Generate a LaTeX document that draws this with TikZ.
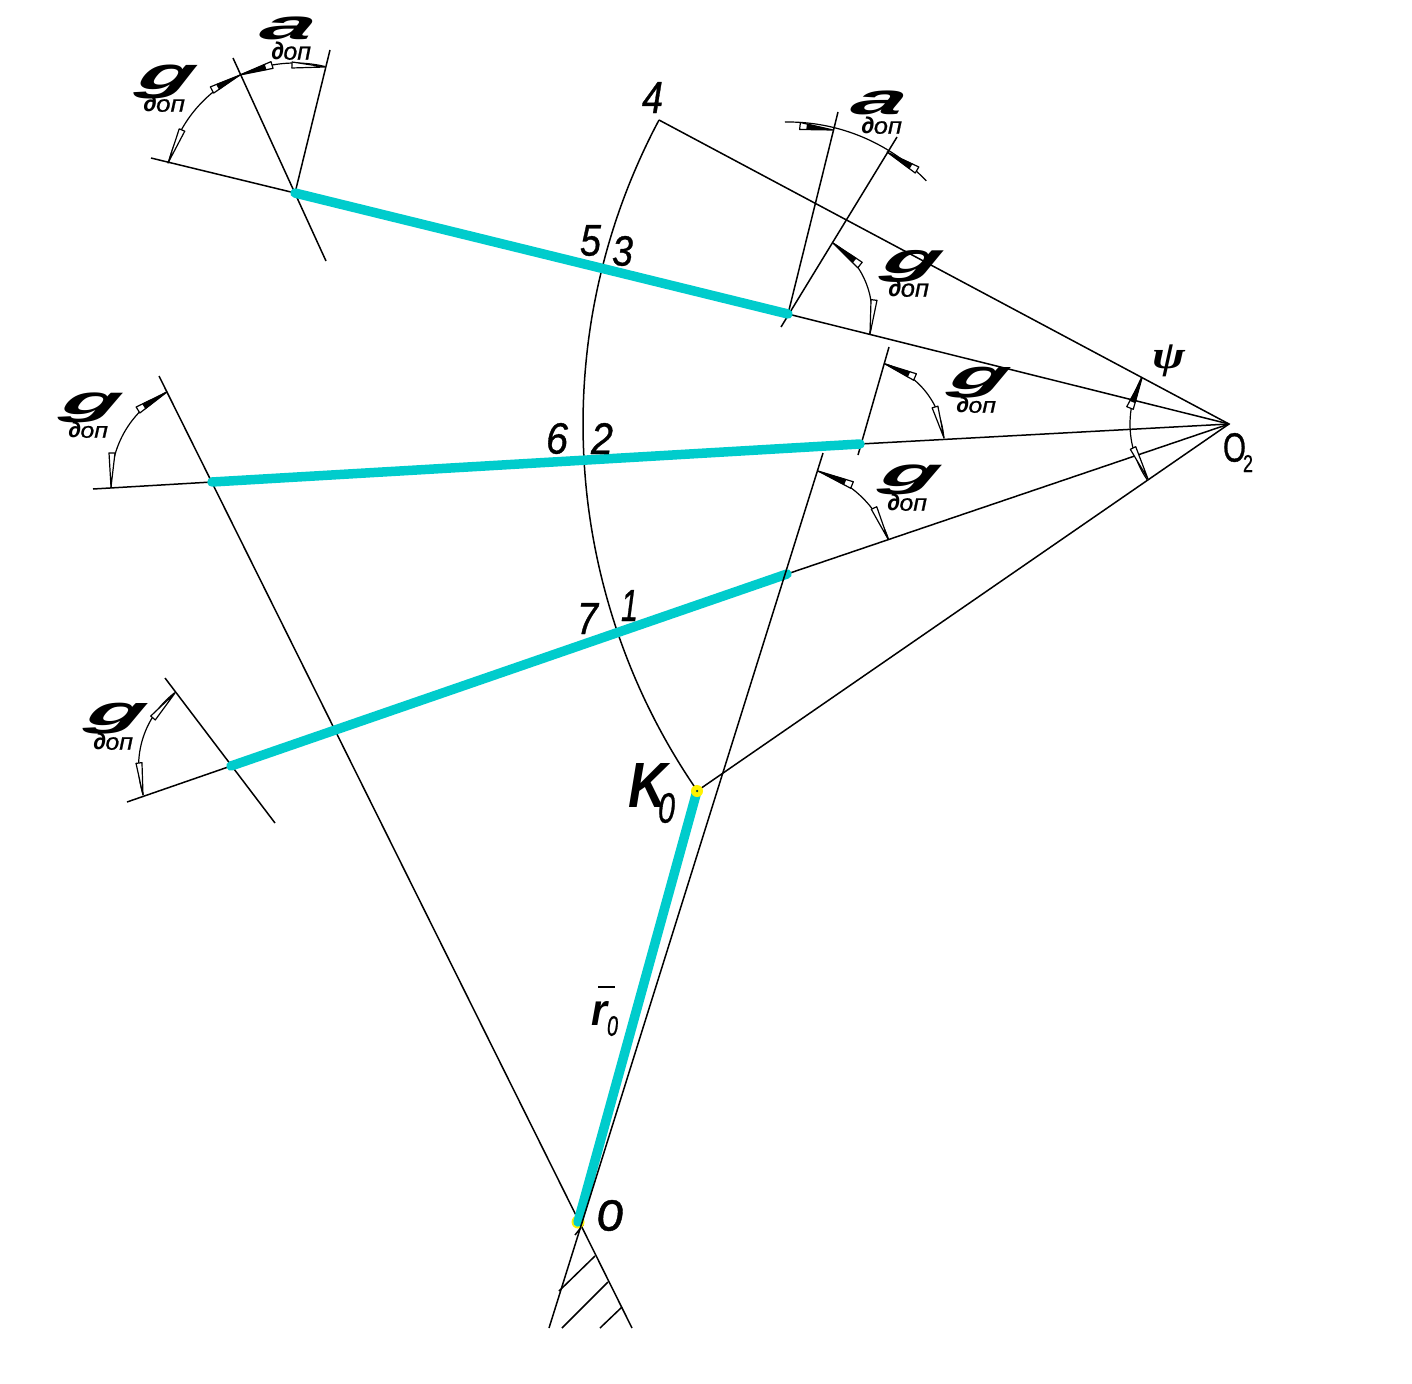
\documentclass[tikz,border=0pt]{standalone}
\usepackage{graphicx}
\usepackage{fontspec}
\setmainfont{Liberation Sans}
\newfontfamily\dopfont{PT Sans}
\newfontfamily\medfam[FakeBold=0.8]{Liberation Sans}
\usetikzlibrary{calc}
\definecolor{linkcyan}{RGB}{0,204,204}
\tikzset{
  thin line/.style={draw=black,line width=1.5pt},
  link/.style={draw=linkcyan,line width=9.5pt,line cap=round},
  glyph/.style={inner sep=0pt,outer sep=0pt},
  headopen/.style={draw=black,line width=1.2pt,fill=white,line join=round},
  headdark/.style={draw=none,fill=black},
  joint/.style={circle,fill=yellow,inner sep=0pt,minimum size=12pt},
  jointcore/.style={circle,fill=black!70!linkcyan,inner sep=0pt,minimum size=2.5pt}
}
% boxed text: name, x1, y1, x2, y2, text
\newcommand\boxlbl[6]{%
  \pgfmathsetmacro\bw{#4-#2}\pgfmathsetmacro\bh{#5-#3}%
  \pgfmathsetmacro\bx{(#2+#4)/2}\pgfmathsetmacro\by{(#3+#5)/2}%
  \node[glyph] (#1) at (\bx,\by) {\resizebox*{\bw pt}{\bh pt}{#6}};%
}
% slanted heavy letter: name, x1, y1, x2, y2, letter
\newcommand\slantlbl[6]{%
  \pgfmathsetmacro\bh{#5-#3}\pgfmathsetmacro\bw{#4-#2-0.4*\bh}%
  \pgfmathsetmacro\bx{(#2+#4)/2}\pgfmathsetmacro\by{(#3+#5)/2}%
  \node[glyph,xslant=0.4,transform shape] (#1) at (\bx,\by) {\resizebox*{\bw pt}{\bh pt}{\bfseries\itshape #6}};%
}
\newcommand\dop{{\dopfont\bfseries\itshape д}{\medfam\itshape оп}}
\newcommand\medit{\medfam\itshape}
\newcommand\dimarc[5]{\draw[thin line,line width=1.2pt] plot[domain=#4:#5,samples=30,smooth] ({#1+#3*cos(\x)},{#2+#3*sin(\x)});}
% open head: tip, base
\newcommand\headO[4]{%
  \draw[headopen] (#1,#2) -- ($(#3,#4)!3pt!90:(#1,#2)$) -- ($(#3,#4)!3pt!-90:(#1,#2)$) -- cycle;}
% head black from the tip, with an open part at its base
\newcommand\headD[4]{%
  \draw[headopen] (#1,#2) -- ($(#3,#4)!3.5pt!90:(#1,#2)$) -- ($(#3,#4)!3.5pt!-90:(#1,#2)$) -- cycle;
  \fill[headdark] (#1,#2) -- ($($(#1,#2)!0.8!(#3,#4)$)!3.2pt!90:(#1,#2)$) -- ($($(#1,#2)!0.8!(#3,#4)$)!3.2pt!-90:(#1,#2)$) -- cycle;}
\begin{document}
\begin{tikzpicture}[x=1pt,y=-1pt]
\useasboundingbox[fill=white] (0,0) rectangle (1412,1383);
% named points
\coordinate (O) at (578,1222);
\coordinate (K) at (697,791);
\coordinate (Otwo) at (1229,424);
\coordinate (P4) at (659,120);
\coordinate (A) at (295,193);
\coordinate (B) at (788,314);
\coordinate (C) at (212,482);
\coordinate (D) at (860,444);
\coordinate (E) at (231,766);
\coordinate (F) at (787,574);
\coordinate (Ltop) at (823,453);
\coordinate (Lbot) at (549,1328);
% construction lines
\draw[thin line] (P4) -- (Otwo) -- (K);
\draw[thin line] (159,376) -- (632,1328);
\draw[thin line] (Otwo) -- (B);
\draw[thin line] (Otwo) -- (D);
\draw[thin line] (Otwo) -- (F);
\draw[thin line] (151,158) -- (A);
\draw[thin line] (93,489) -- (C);
\draw[thin line] (127,802) -- (E);
\draw[thin line] (233,58) -- (326,261);
\draw[thin line] (330,50) -- (A);
\draw[thin line] (838,112) -- (B);
\draw[thin line] (781,327) -- (897,137);
\draw[thin line] (889,347) -- (858,455);
\draw[thin line] (165,678) -- (275,823);
% hatching
\draw[thin line] (583,1225) -- (575,1235);
\draw[thin line] (595,1256) -- (559,1291);
\draw[thin line] (608,1282) -- (562,1328);
\draw[thin line] (622,1307) -- (600,1328);
% main arc
\draw[thin line] plot[domain=145.4:208.07,samples=60,smooth] ({1229+646*cos(\x)},{424+646*sin(\x)});
% links
\node[joint,minimum size=13pt] (jO) at (O) {};
\draw[link] (A) -- (B);
\draw[link] (C) -- (D);
\draw[link] (E) -- (F);
\draw[link] (O) -- (K);
\draw[thin line] (Ltop) -- (Lbot);
% joints
\node[joint] (jK) at (K) {}; \node[jointcore] (jKc) at (K) {};
% dimension arcs
\dimarc{295}{193}{130}{193.3}{283.4}
\dimarc{788}{314}{84}{-57.6}{13.7}
\dimarc{788}{314}{192}{-90.9}{-43.9}
\dimarc{860}{444}{84}{-72.6}{-4}
\dimarc{787}{574}{107.3}{-73.2}{-19.1}
\dimarc{212}{482}{100.8}{177.2}{243.4}
\dimarc{231}{766}{92.4}{161.8}{232.5}
\dimarc{1229}{424}{99}{145.8}{207.9}
% arrow heads
\headO{168}{163}{182}{130}
\headD{240}{75}{212}{90}
\headD{240}{75}{272}{65}
\headO{325}{67}{292}{65}
\headO{870}{334}{874}{300}
\headD{833}{243}{860}{265}
\headD{833}{130}{800}{126}
\headD{887}{152}{917}{170}
\headO{944}{438}{935}{407}
\headD{885}{364}{915}{377}
\headO{888}{539}{874}{508}
\headD{818}{471}{852}{485}
\headO{111}{487}{112}{453}
\headD{167}{392}{138}{410}
\headO{143}{795}{139}{763}
\headO{175}{693}{153}{718}
\headD{1142}{378}{1130}{408}
\headO{1148}{479}{1133}{448}
% g and a labels
\slantlbl{g1}{132}{65}{200}{99}{g}
\boxlbl{g1d}{143}{95}{185}{112}{\dop}
\slantlbl{a1}{257}{17}{319}{40}{a}
\boxlbl{a1d}{271}{42}{311}{60}{\dop}
\slantlbl{a2}{848}{91}{910}{115}{a}
\boxlbl{a2d}{861}{117}{902}{134}{\dop}
\slantlbl{g2}{877}{250}{946}{282}{g}
\boxlbl{g2d}{888}{279}{929}{297}{\dop}
\slantlbl{g3}{944}{367}{1013}{398}{g}
\boxlbl{g3d}{956}{397}{996}{413}{\dop}
\slantlbl{g4}{875}{465}{944}{495}{g}
\boxlbl{g4d}{887}{494}{927}{511}{\dop}
\slantlbl{g5}{56}{393}{125}{423}{g}
\boxlbl{g5d}{68}{422}{108}{438}{\dop}
\slantlbl{g6}{81}{703}{150}{734}{g}
\boxlbl{g6d}{93}{733}{133}{750}{\dop}
% numbers
\boxlbl{n4}{642}{82}{663}{113}{\medit 4}
\boxlbl{n5}{580}{225}{601}{256}{\medit 5}
\boxlbl{n3}{612}{236}{633}{266}{\medit 3}
\boxlbl{n6}{546}{423}{568}{454}{\medit 6}
\boxlbl{n2}{591}{423}{613}{454}{\medit 2}
\boxlbl{n7}{577}{603}{598}{634}{\medit 7}
\boxlbl{n1}{621}{590}{638}{621}{\medit 1}
% letters
\boxlbl{kK}{628}{763}{667}{807}{\bfseries\itshape K}
\boxlbl{kz}{658}{793}{675}{823}{\medit 0}
\boxlbl{lO}{597}{1200}{624}{1231}{\medit o}
\boxlbl{lOt}{1223}{433}{1246}{462}{\medfam O}
\boxlbl{lOs}{1243}{455}{1253}{472}{\medfam 2}
\boxlbl{lpsi}{1152}{345}{1185}{377}{\fontspec{Liberation Serif}\bfseries\itshape ψ}
\boxlbl{lr}{591}{1001}{607}{1025}{\bfseries\itshape r}
\coordinate (barL) at (598,987);
\coordinate (barR) at (615,987);
\draw[thin line] (barL) -- (barR);
\boxlbl{lrz}{607}{1016}{618}{1036}{\medit 0}
\end{tikzpicture}
\end{document}
